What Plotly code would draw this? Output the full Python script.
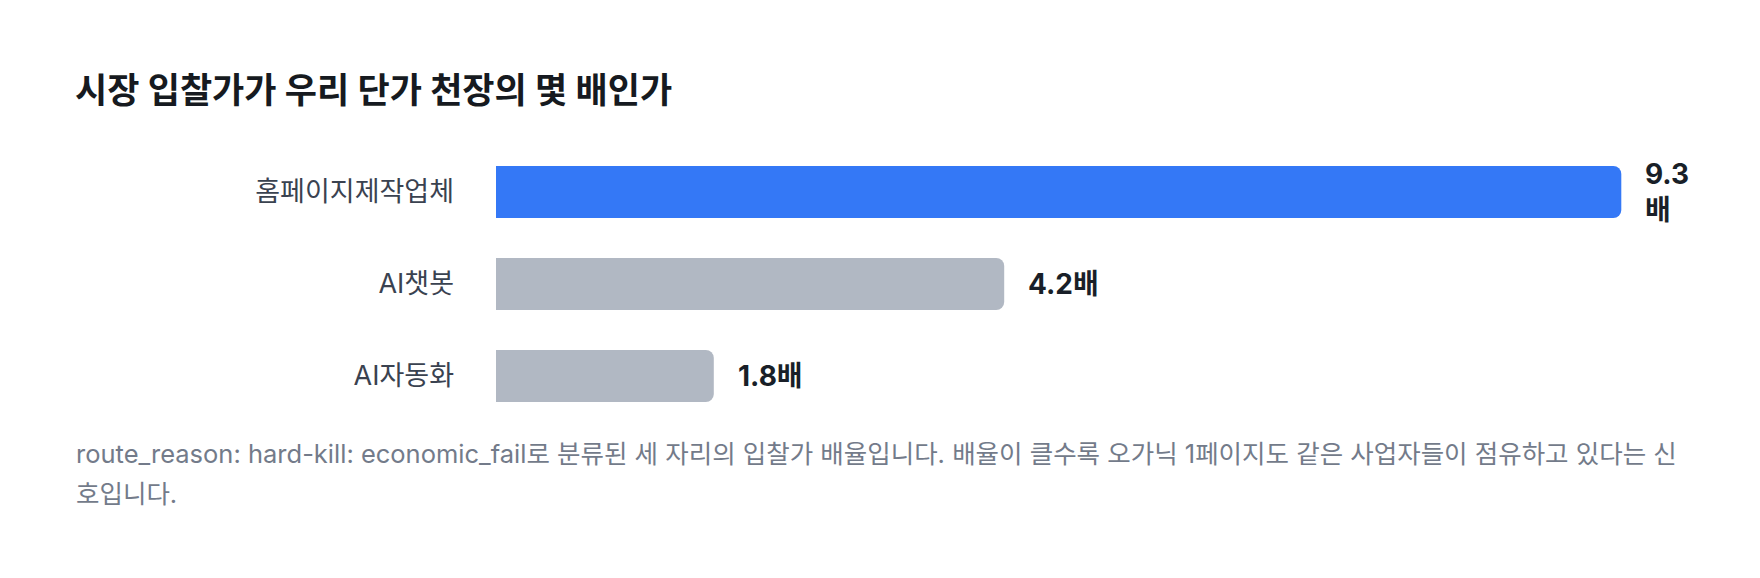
import plotly.graph_objects as go

# data
categories = ["홈페이지제작업체", "AI챗봇", "AI자동화"]
multiples = [9.3, 4.2, 1.8]
value_labels = ["9.3<br>배", "4.2배", "1.8배"]
bar_colors = ["#3478F6", "#B1B8C3", "#B1B8C3"]

title_text = "시장 입찰가가 우리 단가 천장의 몇 배인가"
note_lines = [
    "route_reason: hard-kill: economic_fail로 분류된 세 자리의 입찰가 배율입니다. "
    "배율이 클수록 오가닉 1페이지도 같은 사업자들이 점유하고 있다는 신",
    "호입니다.",
]

# the page body adds an 8px margin, so the figure is drawn 8px smaller
W, H = 1752, 570
ML, MT, MB = 488, 138, 156
PW = 1186
MR = W - ML - PW
PH = H - MT - MB
PX_PER_UNIT = 121

FONT = "Inter, 'Noto Sans CJK KR', sans-serif"


def paper_y(px):
    # figure pixel row -> paper y
    return (H - MB - px) / PH


fig = go.Figure()

fig.add_trace(go.Bar(
    x=multiples,
    y=categories,
    orientation="h",
    marker=dict(color=bar_colors, cornerradius=8, line=dict(width=0)),
    width=0.565,
    hoverinfo="skip",
))

# value labels right of each bar
for v, c, t in zip(multiples, categories, value_labels):
    fig.add_annotation(
        x=v, y=c, text=t, showarrow=False,
        xanchor="left", yanchor="middle", xshift=22, align="left",
        font=dict(family=FONT, size=28, color="#191F28", weight="bold"),
    )

# footnote, two lines
for i, line in enumerate(note_lines):
    fig.add_annotation(
        xref="paper", yref="paper", x=0, xshift=66 - ML,
        y=paper_y(445 + 40 * i), xanchor="left", yanchor="middle",
        text=line, showarrow=False, align="left",
        font=dict(family=FONT, size=25.5, color="#737B8A"),
    )

fig.update_layout(
    width=W, height=H,
    margin=dict(l=ML, r=MR, t=MT, b=MB, pad=0),
    paper_bgcolor="white", plot_bgcolor="white",
    showlegend=False,
    title=dict(
        text=title_text, xref="container", yref="container",
        x=67 / W, xanchor="left", y=1 - 83 / H, yanchor="middle",
        font=dict(family=FONT, size=35, color="#161A20", weight="bold"),
    ),
    font=dict(family=FONT),
)

fig.update_xaxes(range=[0, PW / PX_PER_UNIT], visible=False, fixedrange=True)
fig.update_yaxes(
    autorange="reversed", showgrid=False, zeroline=False, showline=False,
    ticks="", ticklabelstandoff=41,
    tickfont=dict(family=FONT, size=27, color="#3A4250"),
    fixedrange=True,
)

fig.write_html("out.html")
